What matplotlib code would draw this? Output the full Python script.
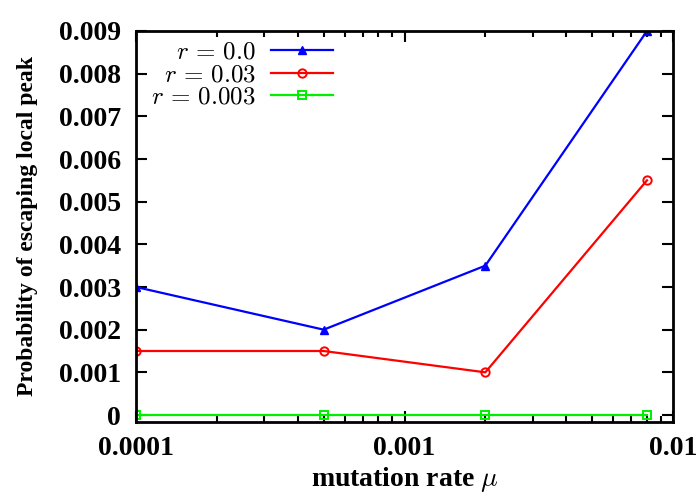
import matplotlib
matplotlib.use("Agg")
import matplotlib.pyplot as plt
from matplotlib.ticker import LogLocator, FixedLocator, NullFormatter

# mutation rates and escape probabilities for each recombination rate
mu = [0.0001, 0.0005, 0.002, 0.008]
p_r0 = [0.003, 0.002, 0.0035, 0.009]
p_r003 = [0.0015, 0.0015, 0.001, 0.0055]
p_r0003 = [0.0, 0.0, 0.0, 0.0]

y_ticks = [0, 0.001, 0.002, 0.003, 0.004, 0.005, 0.006, 0.007, 0.008, 0.009]
y_labels = ["0", "0.001", "0.002", "0.003", "0.004", "0.005", "0.006", "0.007", "0.008", "0.009"]
x_ticks = [0.0001, 0.001, 0.01]
x_labels = ["0.0001", "0.001", "0.01"]

plt.rcParams["font.family"] = "Liberation Serif"
plt.rcParams["mathtext.fontset"] = "cm"

fig = plt.figure(figsize=(6.99, 4.93), dpi=100)
ax = fig.add_axes([136 / 699, 1 - 422 / 493, (673 - 136) / 699, (422 - 31) / 493])

ax.plot(mu, p_r0, color="#0000ff", lw=1.6, marker="^", ms=6, label=r"$r\,=\,0.0$")
ax.plot(mu, p_r003, color="#ff0000", lw=1.6, marker="o", ms=6, mfc="none", mew=1.4,
        label=r"$r\,=\,0.03$")
ax.plot(mu, p_r0003, color="#00ee00", lw=1.6, marker="s", ms=6, mfc="none", mew=1.4,
        label=r"$r\,=\,0.003$")

ax.set_xscale("log")
ax.set_xlim(0.0001, 0.01)
ax.set_ylim(-0.000164, 0.009)

ax.xaxis.set_major_locator(FixedLocator(x_ticks))
ax.set_xticklabels(x_labels)
ax.xaxis.set_minor_locator(LogLocator(base=10, subs=range(2, 10)))
ax.xaxis.set_minor_formatter(NullFormatter())
ax.set_yticks(y_ticks)
ax.set_yticklabels(y_labels)

for lab in ax.get_xticklabels() + ax.get_yticklabels():
    lab.set_fontweight("bold")
    lab.set_fontsize(20)

ax.tick_params(which="both", direction="in", top=True, right=True, width=1.5)
ax.tick_params(which="major", length=8)
ax.tick_params(which="minor", length=4)
ax.tick_params(axis="x", which="major", pad=10)
ax.tick_params(axis="y", which="major", pad=11)
for s in ax.spines.values():
    s.set_linewidth(2)

ax.set_xlabel(r"mutation rate $\mu$", fontsize=20, fontweight="bold", labelpad=3)
ax.set_ylabel("Probability of escaping local peak", fontsize=17, fontweight="bold",
              labelpad=15)

leg = ax.legend(loc="upper left", bbox_to_anchor=(0.0, 1.012), markerfirst=False,
                frameon=False, fontsize=18, handlelength=2.5, handletextpad=0.6,
                labelspacing=0.0, borderaxespad=0.2)
for t in leg.get_texts():
    t.set_ha("right")
leg._legend_box.align = "right"

fig.savefig("out.png", dpi=100)
